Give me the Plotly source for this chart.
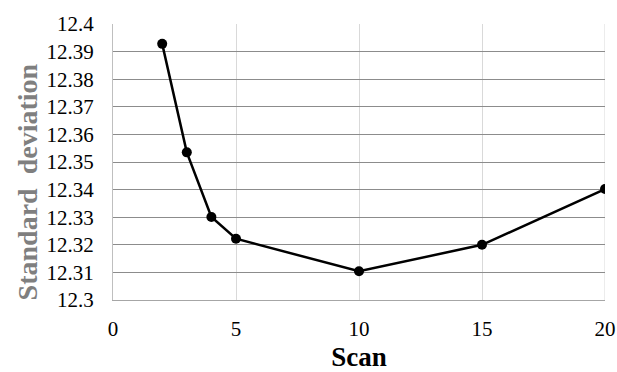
import plotly.graph_objects as go

scan = [2, 3, 4, 5, 10, 15, 20]
std_dev = [12.3928, 12.3535, 12.3301, 12.3222, 12.3104, 12.3200, 12.3402]
x_ticks = [0, 5, 10, 15, 20]
y_ticks = [12.30, 12.31, 12.32, 12.33, 12.34, 12.35, 12.36, 12.37, 12.38, 12.39, 12.40]
y_labels = ["12.3", "12.31", "12.32", "12.33", "12.34", "12.35", "12.36", "12.37", "12.38", "12.39", "12.4"]
x_title = "Scan"
y_title = "Standard  deviation"

fig = go.Figure()
fig.add_trace(go.Scatter(
    x=scan, y=std_dev, mode="lines+markers",
    line=dict(color="black", width=2.5),
    marker=dict(color="black", size=10),
    showlegend=False,
))

font = "Liberation Serif"
fig.update_layout(
    width=617, height=372,
    margin=dict(l=113, r=12, t=24, b=72),
    paper_bgcolor="white", plot_bgcolor="white",
    font=dict(family=font, size=20, color="black"),
    xaxis=dict(
        range=[0, 20], tickvals=x_ticks, ticktext=[str(v) for v in x_ticks],
        showgrid=True, gridcolor="#d9d9d9", gridwidth=1,
        showline=True, linecolor="#a6a6a6", linewidth=1, mirror=False,
        zeroline=False, ticks="outside", ticklen=10, tickcolor="rgba(0,0,0,0)",
        tickfont=dict(family=font, size=21, color="black"),
        automargin=False,
        title=dict(text="<b>" + x_title + "</b>", font=dict(family=font, size=27, color="black"), standoff=13),
    ),
    yaxis=dict(
        range=[12.3, 12.4], tickvals=y_ticks, ticktext=y_labels,
        showgrid=True, gridcolor="#8c8c8c", gridwidth=1,
        showline=True, linecolor="#bfbfbf", linewidth=1,
        zeroline=False, ticks="outside", ticklen=14, tickcolor="rgba(0,0,0,0)",
        tickfont=dict(family=font, size=21, color="black"),
        automargin=False,
    ),
    annotations=[dict(
        text="<b>" + y_title + "</b>", textangle=-90,
        xref="paper", yref="paper", x=-0.174, y=0.4275,
        xanchor="center", yanchor="middle", showarrow=False,
        font=dict(family=font, size=28, color="#7f7f7f"),
    )],
)
fig.add_shape(type="line", xref="x", yref="paper", x0=20, x1=20, y0=0, y1=1,
              line=dict(color="#d9d9d9", width=1), layer="below")
fig.write_html("out.html", config={"displayModeBar": False},
               post_script="document.body.style.margin='0';document.body.style.overflow='hidden';")
